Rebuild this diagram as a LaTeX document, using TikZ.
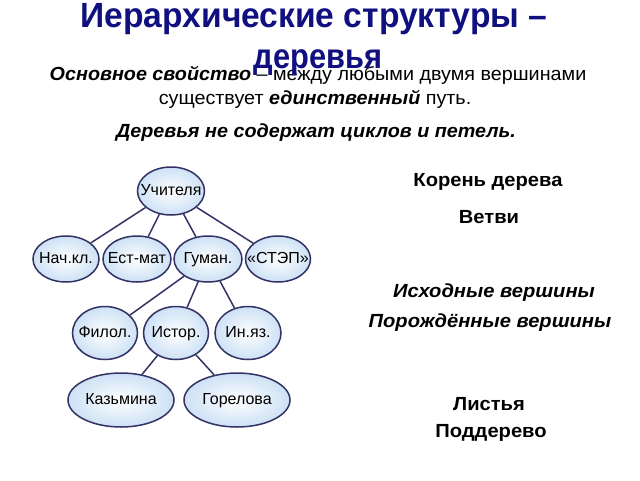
\documentclass[tikz,border=0pt]{standalone}
\usepackage{fontspec}
\setmainfont{Liberation Sans}
\usetikzlibrary{shapes.geometric}
\definecolor{navy}{RGB}{16,16,128}
\definecolor{edge}{RGB}{50,50,100}
\definecolor{lblue}{RGB}{205,225,245}
\tikzset{
  vert/.style={ellipse, draw=edge, line width=1.5pt, inner color=white, outer color=lblue, inner sep=-14pt, text height=11.5pt, text depth=3pt, font=\fontsize{16}{18}\selectfont},
  link/.style={draw=edge, line width=1.5pt},
  side/.style={font=\fontsize{19}{22}\selectfont\bfseries},
  sidei/.style={font=\fontsize{19}{22}\selectfont\bfseries\itshape},
  sub/.style={font=\fontsize{19}{22}\selectfont},
  ttl/.style={text=navy, anchor=base, font=\fontsize{35}{40}\selectfont\bfseries},
}
\begin{document}
\begin{tikzpicture}[x=1pt,y=-1pt]
\useasboundingbox (0,0) rectangle (640,480);
% subtitle
\node[sub] (s1) at (318,75) {\scalebox{1.04}[1]{\textbf{\textit{Основное свойство}} – между любыми двумя вершинами}};
\node[sub] (s2) at (315,99) {\scalebox{1.04}[1]{существует \textbf{\textit{единственный}} путь.}};
\node[sub] (s3) at (316,133) {\scalebox{1.04}[1]{\bfseries\itshape Деревья не содержат циклов и петель.}};
% tree
\node[vert, minimum width=67, minimum height=48] (u) at (171,191) {Учителя};
\node[vert, minimum width=66, minimum height=46] (n) at (66,259) {Нач.кл.};
\node[vert, minimum width=68, minimum height=46] (e) at (137,259) {Ест-мат};
\node[vert, minimum width=68, minimum height=46] (g) at (208,259) {Гуман.};
\node[vert, minimum width=65, minimum height=46] (st) at (278,259) {«СТЭП»};
\node[vert, minimum width=65, minimum height=53] (f) at (105,333) {Филол.};
\node[vert, minimum width=65, minimum height=53] (i) at (176,333) {Истор.};
\node[vert, minimum width=66, minimum height=53] (y) at (248,333) {Ин.яз.};
\node[vert, minimum width=106, minimum height=54] (k) at (121,400) {Казьмина};
\node[vert, minimum width=106, minimum height=54] (gr) at (237,400) {Горелова};
\draw[link] (u) -- (n);
\draw[link] (u) -- (e);
\draw[link] (u) -- (g);
\draw[link] (u) -- (st);
\draw[link] (g) -- (f);
\draw[link] (g) -- (i);
\draw[link] (g) -- (y);
\draw[link] (i) -- (k);
\draw[link] (i) -- (gr);
% right column
\node[side] (t1) at (488,182) {\scalebox{1.06}[1]{Корень дерева}};
\node[side] (t2) at (489,217) {\scalebox{1.06}[1]{Ветви}};
\node[sidei] (t3) at (494,293) {\scalebox{1.06}[1]{Исходные вершины}};
\node[sidei] (t4) at (490,323) {\scalebox{1.06}[1]{Порождённые вершины}};
\node[side] (t5) at (489,404) {\scalebox{1.06}[1]{Листья}};
\node[side] (t6) at (491,433) {\scalebox{1.06}[1]{Поддерево}};
% title
\node[ttl] (title1) at (314,27) {\scalebox{0.96}[1]{Иерархические структуры –}};
\node[ttl] (title2) at (318,68) {\scalebox{0.88}[1]{деревья}};
\end{tikzpicture}
\end{document}
